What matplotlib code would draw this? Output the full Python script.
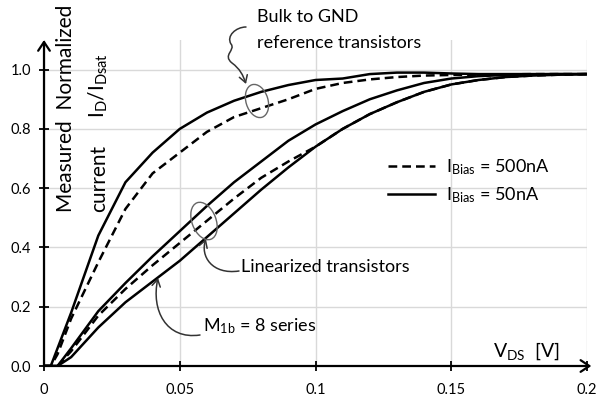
import matplotlib
matplotlib.use('Agg')
import matplotlib.pyplot as plt
from matplotlib.patches import Ellipse, FancyArrowPatch
from matplotlib.path import Path

plt.rcParams['font.family'] = ['Lato', 'DejaVu Sans']
plt.rcParams['mathtext.fontset'] = 'custom'
plt.rcParams['mathtext.rm'] = 'Lato'
plt.rcParams['mathtext.default'] = 'regular'

# measured curves, normalized ID/IDsat vs VDS
vds = [0.0, 0.0025, 0.005, 0.01, 0.02, 0.03, 0.04, 0.05, 0.06, 0.07, 0.08,
       0.09, 0.10, 0.11, 0.12, 0.13, 0.14, 0.15, 0.16, 0.17, 0.18, 0.19, 0.20]
bulk_50n = [0, 0, 0.06, 0.18, 0.44, 0.62, 0.72, 0.80, 0.855, 0.895, 0.925,
            0.948, 0.965, 0.97, 0.985, 0.99, 0.99, 0.987, 0.985, 0.985, 0.985, 0.985, 0.985]
bulk_500n = [0, 0, 0.04, 0.16, 0.35, 0.53, 0.65, 0.72, 0.79, 0.84, 0.87,
             0.90, 0.935, 0.955, 0.967, 0.975, 0.98, 0.982, 0.983, 0.984, 0.985, 0.985, 0.985]
lin_50n = [0, 0, 0, 0.06, 0.185, 0.28, 0.37, 0.455, 0.54, 0.62, 0.69,
           0.76, 0.815, 0.86, 0.90, 0.93, 0.955, 0.97, 0.978, 0.982, 0.984, 0.985, 0.985]
lin_500n = [0, 0, 0, 0.05, 0.17, 0.26, 0.34, 0.415, 0.49, 0.565, 0.635,
            0.69, 0.74, 0.80, 0.85, 0.89, 0.925, 0.95, 0.965, 0.975, 0.98, 0.983, 0.985]
m1b_50n = [0, 0, 0, 0.03, 0.13, 0.215, 0.285, 0.355, 0.435, 0.515, 0.595,
           0.67, 0.74, 0.80, 0.85, 0.89, 0.925, 0.95, 0.965, 0.975, 0.98, 0.983, 0.985]

xticks = [0, 0.05, 0.1, 0.15, 0.2]
xticklabels = ['0', '0.05', '0.1', '0.15', '0.2']
yticks = [0.0, 0.2, 0.4, 0.6, 0.8, 1.0]

fig = plt.figure(figsize=(5.97, 3.98), dpi=100)
ax = fig.add_axes([44 / 597, 32 / 398, 543 / 597, 326 / 398])


def P(x, y):
    # pixel position (from top-left) -> inches for fig.dpi_scale_trans
    return (x / 100, (398 - y) / 100)


T = fig.dpi_scale_trans
dash = (0, (3.5, 2))
lw = 1.8

l_d, = ax.plot(vds, bulk_500n, color='black', lw=lw, ls=dash)
l_s, = ax.plot(vds, bulk_50n, color='black', lw=lw)
ax.plot(vds, lin_50n, color='black', lw=lw)
ax.plot(vds, m1b_50n, color='black', lw=lw)
ax.plot(vds, lin_500n, color='black', lw=lw, ls=dash)

ax.set_xlim(0, 0.2)
ax.set_ylim(0, 1.1)
ax.set_xticks(xticks)
ax.set_xticklabels(xticklabels)
ax.set_yticks(yticks)
ax.set_yticklabels(['%.1f' % v for v in yticks])
ax.grid(True, color='#d9d9d9', lw=1)
ax.set_axisbelow(True)
for s in ax.spines.values():
    s.set_visible(False)
ax.tick_params(axis='both', direction='inout', length=7, width=1.3, labelsize=10.5, color='black')
ax.tick_params(axis='x', pad=9)
ax.tick_params(axis='y', pad=6)

# axes drawn as arrows
ax.annotate('', xy=(0, 1.0), xycoords='axes fraction', xytext=(0, 0), textcoords='axes fraction',
            arrowprops=dict(arrowstyle='->,head_length=0.45,head_width=0.3', lw=1.6, color='black',
                            shrinkA=0, shrinkB=0, mutation_scale=14))
ax.annotate('', xy=(1.008, 0), xycoords='axes fraction', xytext=(0, 0), textcoords='axes fraction',
            arrowprops=dict(arrowstyle='->,head_length=0.45,head_width=0.3', lw=1.6, color='black',
                            shrinkA=0, shrinkB=0, mutation_scale=14))

# legend
ax.legend([l_d, l_s], [r'I$_{Bias}$ = 500nA', r'I$_{Bias}$ = 50nA'], loc='upper left',
          bbox_to_anchor=P(388, 157), bbox_transform=T, frameon=False, fontsize=13,
          handlelength=2.6, handletextpad=0.6, labelspacing=0.45, borderpad=0, borderaxespad=0)

# y label (two rotated lines)
fig.text(*P(72, 212), 'Measured  Normalized', rotation=90, rotation_mode='anchor',
         ha='left', va='baseline', fontsize=15, transform=T)
fig.text(*P(105, 212), 'current', rotation=90, rotation_mode='anchor',
         ha='left', va='baseline', fontsize=15, transform=T)
fig.text(*P(105, 118), r'I$_{D}$/I$_{Dsat}$', rotation=90, rotation_mode='anchor',
         ha='left', va='baseline', fontsize=15, transform=T)

# annotations
fig.text(*P(257, 22), 'Bulk to GND', ha='left', va='baseline', fontsize=13, transform=T)
fig.text(*P(257, 48), 'reference transistors', ha='left', va='baseline', fontsize=13, transform=T)
fig.text(*P(241, 272), 'Linearized transistors', ha='left', va='baseline', fontsize=13, transform=T)
fig.text(*P(203, 331), r'M$_{1b}$ = 8 series', ha='left', va='baseline', fontsize=13, transform=T)
fig.text(*P(493, 357), r'V$_{DS}$  [V]', ha='left', va='baseline', fontsize=14, transform=T)

acol = '#333333'
C4 = Path.CURVE4
paths = [
    ([P(246, 27), P(236, 27), P(226, 36), P(231, 44), P(236, 50), P(222, 55), P(232, 63),
      P(240, 69), P(243, 75), P(246, 84)],
     [Path.MOVETO, C4, C4, C4, C4, C4, C4, C4, C4, C4]),
    ([P(239, 271), P(212, 275), P(200, 256), P(206, 239)], [Path.MOVETO, C4, C4, C4]),
    ([P(200, 335), P(166, 340), P(151, 310), P(158, 278)], [Path.MOVETO, C4, C4, C4]),
]
for verts, codes in paths:
    fig.add_artist(FancyArrowPatch(path=Path(verts, codes), arrowstyle='->,head_length=0.5,head_width=0.3',
                                   mutation_scale=10, lw=1.1, color=acol, transform=T))

fig.add_artist(Ellipse(P(257, 101), 22 / 100, 34 / 100, angle=17, fill=False,
                       ec='#666666', lw=1.0, transform=T))
fig.add_artist(Ellipse(P(204, 221), 24 / 100, 39 / 100, angle=21, fill=False,
                       ec='#666666', lw=1.0, transform=T))

fig.savefig('out.png', dpi=100)
